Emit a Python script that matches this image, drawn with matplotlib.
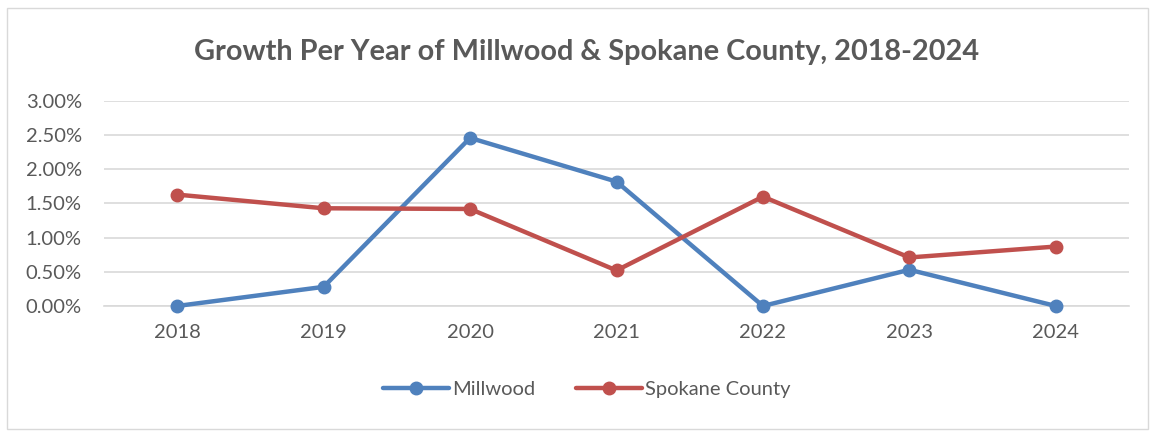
import matplotlib.pyplot as plt
from matplotlib.patches import Rectangle
from matplotlib.ticker import FuncFormatter

years = ["2018", "2019", "2020", "2021", "2022", "2023", "2024"]
millwood = [0.00, 0.28, 2.46, 1.82, 0.00, 0.53, 0.00]
spokane = [1.63, 1.43, 1.42, 0.52, 1.60, 0.71, 0.87]
y_ticks = [0.0, 0.5, 1.0, 1.5, 2.0, 2.5, 3.0]

plt.rcParams['font.family'] = ['Lato', 'DejaVu Sans']
text_col = "#595959"

fig = plt.figure(figsize=(11.53, 4.32), dpi=100)
fig.patches.append(Rectangle((0.006, 0.007), 0.99, 0.975, transform=fig.transFigure,
                             fill=False, edgecolor="#d9d9d9", linewidth=1))

ax = fig.add_axes([0.0902, 0.2917, 0.889, 0.4745])
x = range(len(years))
ax.plot(x, millwood, color="#4f81bd", linewidth=3.2, marker="o", markersize=9,
        label="Millwood", solid_capstyle="round", zorder=3, clip_on=False)
ax.plot(x, spokane, color="#c0504d", linewidth=3.2, marker="o", markersize=9,
        label="Spokane County", solid_capstyle="round", zorder=3, clip_on=False)

ax.set_xlim(-0.5, len(years) - 0.5)
ax.set_ylim(0, 3.0)
ax.set_yticks(y_ticks)
ax.yaxis.set_major_formatter(FuncFormatter(lambda v, p: f"{v:.2f}%"))
ax.set_xticks(list(x))
ax.set_xticklabels(years)
ax.grid(axis="y", color="#d9d9d9", linewidth=1.2)
ax.set_axisbelow(True)
for s in ["top", "right", "left"]:
    ax.spines[s].set_visible(False)
ax.spines["bottom"].set_color("#d9d9d9")
ax.spines["bottom"].set_linewidth(1.2)
ax.tick_params(axis="both", length=0, labelsize=14.5, colors=text_col)
ax.tick_params(axis="x", pad=13)
ax.tick_params(axis="y", pad=16)

fig.text(0.509, 0.88, "Growth Per Year of Millwood & Spokane County, 2018-2024",
         ha="center", va="center", fontsize=20.8, fontweight="bold", color=text_col)

fig.legend(loc="center", bbox_to_anchor=(0.509, 0.098), ncol=2, frameon=False,
           fontsize=14.5, labelcolor=text_col, handlelength=3.3, handletextpad=0.15,
           columnspacing=2.0)

fig.savefig("out.png", dpi=100)
